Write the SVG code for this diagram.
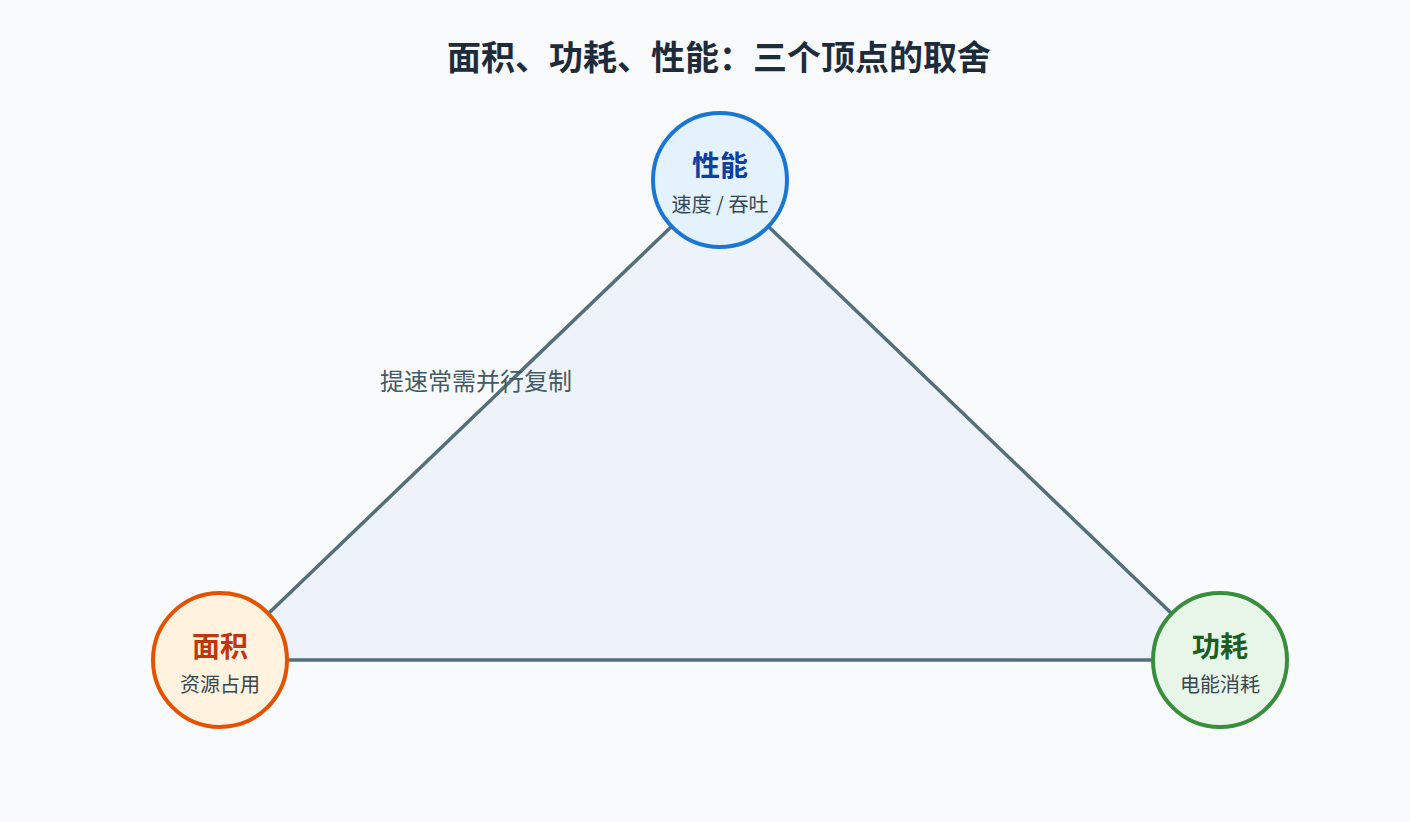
<svg xmlns="http://www.w3.org/2000/svg" width="1410" height="822" viewBox="0 0 1410 822">
<style>
.title{font-family:"Noto Sans CJK SC","Noto Sans",sans-serif;font-weight:700;font-size:34px;fill:#1e2b3a;text-anchor:middle}
.nt{font-family:"Noto Sans CJK SC","Noto Sans",sans-serif;font-weight:700;font-size:28px;text-anchor:middle}
.ns{font-family:"Noto Sans CJK SC","Noto Sans",sans-serif;font-size:20px;fill:#37474f;text-anchor:middle}
.el{font-family:"Noto Sans CJK SC","Noto Sans",sans-serif;font-size:24px;fill:#455a64;text-anchor:middle}
.edge{fill:none;stroke:#546e7a;stroke-width:3.5;stroke-linecap:round}
.c{stroke-width:4}
</style>
<rect width="1410" height="822" fill="#f8fafc"/>
<text class="title" x="719" y="70">面积、功耗、性能：三个顶点的取舍</text>
<g id="connectors">
<polygon points="720,180 220,660 1220,660" fill="#eef3fb" stroke="none"/>
<line class="edge" x1="720" y1="180" x2="220" y2="660"/>
<line class="edge" x1="720" y1="180" x2="1220" y2="660"/>
<line class="edge" x1="220" y1="660" x2="1220" y2="660"/>
<text class="el" x="476" y="390">提速常需并行复制</text>
</g>
<g id="node-perf">
<circle class="c" cx="720" cy="180" r="67" fill="#e3f2fd" stroke="#1976d2"/>
<text class="nt" x="720" y="176" fill="#0d3fa0">性能</text>
<text class="ns" x="720" y="212">速度 / 吞吐</text>
</g>
<g id="node-area">
<circle class="c" cx="220" cy="660" r="67" fill="#fff3e0" stroke="#e65100"/>
<text class="nt" x="220" y="657" fill="#bf360c">面积</text>
<text class="ns" x="220" y="692">资源占用</text>
</g>
<g id="node-power">
<circle class="c" cx="1220" cy="660" r="67" fill="#e8f5e9" stroke="#388e3c"/>
<text class="nt" x="1220" y="657" fill="#1b5e20">功耗</text>
<text class="ns" x="1220" y="692">电能消耗</text>
</g>
</svg>
